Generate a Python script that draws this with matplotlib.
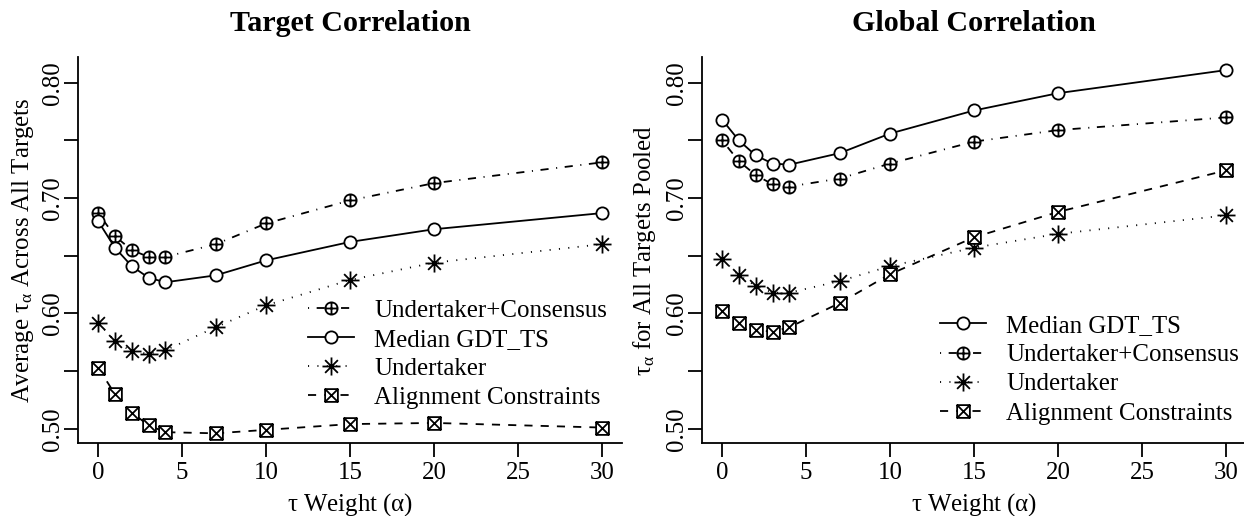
import numpy as np
import matplotlib
matplotlib.use("Agg")
import matplotlib.pyplot as plt
from matplotlib.path import Path

plt.rcParams['font.family'] = ['Liberation Serif', 'DejaVu Serif']
plt.rcParams['mathtext.fontset'] = 'custom'
plt.rcParams['mathtext.rm'] = 'Liberation Serif'
plt.rcParams['mathtext.it'] = 'Liberation Serif'
plt.rcParams['mathtext.bf'] = 'Liberation Serif:bold'

# ---------------- data ----------------
alpha = [0, 1, 2, 3, 4, 7, 10, 15, 20, 30]

# Target correlation (left)
t_consensus = [0.687, 0.667, 0.655, 0.649, 0.649, 0.660, 0.678, 0.698, 0.713, 0.731]
t_median    = [0.680, 0.657, 0.641, 0.631, 0.627, 0.633, 0.646, 0.662, 0.673, 0.687]
t_undertaker= [0.592, 0.576, 0.567, 0.565, 0.568, 0.588, 0.607, 0.629, 0.644, 0.660]
t_alignment = [0.553, 0.530, 0.514, 0.503, 0.497, 0.496, 0.499, 0.504, 0.505, 0.501]

# Global correlation (right)
g_median    = [0.768, 0.750, 0.737, 0.730, 0.729, 0.739, 0.756, 0.776, 0.791, 0.811]
g_consensus = [0.750, 0.732, 0.720, 0.712, 0.710, 0.717, 0.730, 0.749, 0.759, 0.770]
g_undertaker= [0.647, 0.633, 0.624, 0.618, 0.618, 0.628, 0.641, 0.657, 0.669, 0.685]
g_alignment = [0.602, 0.592, 0.586, 0.584, 0.588, 0.609, 0.634, 0.666, 0.688, 0.724]

xticks = [0, 5, 10, 15, 20, 25, 30]
yticks = [0.50, 0.55, 0.60, 0.65, 0.70, 0.75, 0.80]
ytick_labels = ["0.50", "", "0.60", "", "0.70", "", "0.80"]

FS = 17.9
TFS = 21.6

# ---------------- markers ----------------
def circ_plus():
    c = Path.unit_circle()
    h = Path([[-1, 0], [1, 0]], [Path.MOVETO, Path.LINETO])
    v = Path([[0, -1], [0, 1]], [Path.MOVETO, Path.LINETO])
    return Path.make_compound_path(c, h, v)

def square_x():
    sq = Path([[-1, -1], [1, -1], [1, 1], [-1, 1], [-1, -1]],
              [Path.MOVETO, Path.LINETO, Path.LINETO, Path.LINETO, Path.CLOSEPOLY])
    d1 = Path([[-1, -1], [1, 1]], [Path.MOVETO, Path.LINETO])
    d2 = Path([[-1, 1], [1, -1]], [Path.MOVETO, Path.LINETO])
    return Path.make_compound_path(sq, d1, d2)

def asterisk():
    paths = []
    for ang in [0, 45, 90, 135]:
        a = np.deg2rad(ang)
        paths.append(Path([[-np.cos(a), -np.sin(a)], [np.cos(a), np.sin(a)]],
                          [Path.MOVETO, Path.LINETO]))
    return Path.make_compound_path(*paths)

LW = 1.3
styles = {
    "Median GDT_TS": dict(ls='-', marker='o', ms=8.8),
    "Undertaker+Consensus": dict(ls=(0, (0.6, 4.2, 4.5, 4.2)), marker=circ_plus(), ms=8.8),
    "Undertaker": dict(ls=(0, (0.6, 4.6)), marker=asterisk(), ms=13),
    "Alignment Constraints": dict(ls=(0, (4.5, 4.5)), marker=square_x(), ms=9.2),
}

def draw(ax, name, y):
    st = styles[name]
    ax.plot(alpha, y, color='black', lw=LW, linestyle=st['ls'], marker=st['marker'],
            ms=st['ms'], mfc='white', mec='black', mew=LW, label=name)

def style_axes(ax):
    ax.set_xlim(-1.2, 31.2)
    ax.set_ylim(0.4876, 0.8224)
    ax.set_xticks(xticks)
    ax.set_yticks(yticks)
    ax.set_yticklabels(ytick_labels, rotation=90, va='center')
    ax.spines['top'].set_visible(False)
    ax.spines['right'].set_visible(False)
    for s in ['left', 'bottom']:
        ax.spines[s].set_linewidth(1.3)
    ax.tick_params(axis='both', length=10, width=1.3, labelsize=FS, direction='out')
    ax.tick_params(axis='x', pad=3.5)
    ax.tick_params(axis='y', pad=0)
    ax.set_xlabel(r"$\mathrm{\tau}$ Weight ($\mathrm{\alpha}$)", fontsize=FS, labelpad=5.5)

fig = plt.figure(figsize=(12.44, 5.16), dpi=100)
ax1 = fig.add_axes([78/1244, 73/516, 544/1244, 386/516])
ax2 = fig.add_axes([702/1244, 73/516, 544/1244, 386/516])

legkw = dict(loc='center left', frameon=False, fontsize=FS, handlelength=1.85,
             handletextpad=0.8, labelspacing=0.27, borderaxespad=0)

# left
draw(ax1, "Undertaker+Consensus", t_consensus)
draw(ax1, "Median GDT_TS", t_median)
draw(ax1, "Undertaker", t_undertaker)
draw(ax1, "Alignment Constraints", t_alignment)
style_axes(ax1)
ax1.set_title("Target Correlation", fontsize=TFS, fontweight='bold', pad=19)
ax1.set_ylabel(r"Average $\mathrm{\tau_{\alpha}}$ Across All Targets", fontsize=FS, labelpad=4.5)
ax1.legend(bbox_to_anchor=(0.405, 0.23), **legkw)

# right
draw(ax2, "Median GDT_TS", g_median)
draw(ax2, "Undertaker+Consensus", g_consensus)
draw(ax2, "Undertaker", g_undertaker)
draw(ax2, "Alignment Constraints", g_alignment)
style_axes(ax2)
ax2.set_title("Global Correlation", fontsize=TFS, fontweight='bold', pad=19)
ax2.set_ylabel(r"$\mathrm{\tau_{\alpha}}$ for All Targets Pooled", fontsize=FS, labelpad=5.5)
ax2.legend(bbox_to_anchor=(0.42, 0.19), **legkw)

fig.savefig("out.png", dpi=100)
